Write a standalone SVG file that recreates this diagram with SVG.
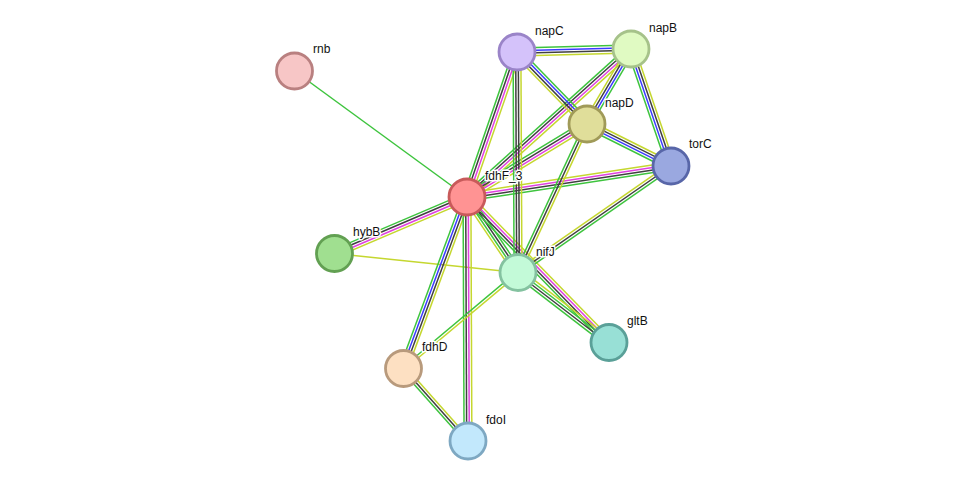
<svg xmlns="http://www.w3.org/2000/svg" width="975" height="487" viewBox="0 0 975 487">
<style>
  .e line { stroke-width: 1.5; fill: none; }
  .g { stroke: #3ec43e; }
  .k { stroke: #404040; }
  .m { stroke: #e040e0; }
  .b { stroke: #3a3aff; }
  .y { stroke: #c5d72f; }
  .node circle { stroke-width: 2.8; }
  .node text { font-family: "Liberation Sans", Arial, sans-serif; font-size: 12px; fill: #111; stroke: #fff; stroke-width: 3; stroke-linejoin: round; paint-order: stroke; }
</style>
<rect width="975" height="487" fill="#fff"/>
<g id="connectors" class="e">
  <!-- fdhF_3 - rnb -->
  <line class="g" x1="467" y1="197" x2="294.5" y2="71"/>
  <!-- nifJ - hybB -->
  <line class="y" x1="518" y1="272.5" x2="334.5" y2="253.5"/>
  <!-- fdhF_3 - napC -->
  <g transform="translate(467 197) rotate(-70.97)">
    <line class="g" x1="0" y1="-3.9" x2="153.4" y2="-3.9"/><line class="k" x1="0" y1="-1.3" x2="153.4" y2="-1.3"/>
    <line class="m" x1="0" y1="1.3" x2="153.4" y2="1.3"/><line class="y" x1="0" y1="3.9" x2="153.4" y2="3.9"/>
  </g>
  <!-- fdhF_3 - napB -->
  <g transform="translate(467 197) rotate(-42.06)">
    <line class="g" x1="0" y1="-3.9" x2="220.9" y2="-3.9"/><line class="k" x1="0" y1="-1.3" x2="220.9" y2="-1.3"/>
    <line class="m" x1="0" y1="1.3" x2="220.9" y2="1.3"/><line class="y" x1="0" y1="3.9" x2="220.9" y2="3.9"/>
  </g>
  <!-- fdhF_3 - napD -->
  <g transform="translate(467 197) rotate(-31.31)">
    <line class="g" x1="0" y1="-3.9" x2="140.5" y2="-3.9"/><line class="k" x1="0" y1="-1.3" x2="140.5" y2="-1.3"/>
    <line class="m" x1="0" y1="1.3" x2="140.5" y2="1.3"/><line class="y" x1="0" y1="3.9" x2="140.5" y2="3.9"/>
  </g>
  <!-- fdhF_3 - torC -->
  <g transform="translate(467 197) rotate(-8.64)">
    <line class="y" x1="0" y1="-3.9" x2="206.3" y2="-3.9"/><line class="m" x1="0" y1="-1.3" x2="206.3" y2="-1.3"/>
    <line class="k" x1="0" y1="1.3" x2="206.3" y2="1.3"/><line class="g" x1="0" y1="3.9" x2="206.3" y2="3.9"/>
  </g>
  <!-- fdhF_3 - hybB -->
  <g transform="translate(467 197) rotate(156.9)">
    <line class="y" x1="0" y1="-3.9" x2="144" y2="-3.9"/><line class="m" x1="0" y1="-1.3" x2="144" y2="-1.3"/>
    <line class="k" x1="0" y1="1.3" x2="144" y2="1.3"/><line class="g" x1="0" y1="3.9" x2="144" y2="3.9"/>
  </g>
  <!-- fdhF_3 - nifJ -->
  <g transform="translate(467 197) rotate(55.96)">
    <line class="g" x1="0" y1="-3.9" x2="91.1" y2="-3.9"/><line class="k" x1="0" y1="-1.3" x2="91.1" y2="-1.3"/>
    <line class="g" x1="0" y1="1.3" x2="91.1" y2="1.3"/><line class="y" x1="0" y1="3.9" x2="91.1" y2="3.9"/>
  </g>
  <!-- fdhF_3 - gltB -->
  <g transform="translate(467 197) rotate(45.7)">
    <line class="y" x1="0" y1="-3.9" x2="203.3" y2="-3.9"/><line class="m" x1="0" y1="-1.3" x2="203.3" y2="-1.3"/>
    <line class="k" x1="0" y1="1.3" x2="203.3" y2="1.3"/><line class="g" x1="0" y1="3.9" x2="203.3" y2="3.9"/>
  </g>
  <!-- fdhF_3 - fdhD -->
  <g transform="translate(467 197) rotate(110.32)">
    <line class="y" x1="0" y1="-3.9" x2="182.9" y2="-3.9"/><line class="k" x1="0" y1="-1.3" x2="182.9" y2="-1.3"/>
    <line class="b" x1="0" y1="1.3" x2="182.9" y2="1.3"/><line class="g" x1="0" y1="3.9" x2="182.9" y2="3.9"/>
  </g>
  <!-- fdhF_3 - fdoI -->
  <g transform="translate(467 197) rotate(89.77)">
    <line class="y" x1="0" y1="-3.9" x2="244" y2="-3.9"/><line class="m" x1="0" y1="-1.3" x2="244" y2="-1.3"/>
    <line class="k" x1="0" y1="1.3" x2="244" y2="1.3"/><line class="g" x1="0" y1="3.9" x2="244" y2="3.9"/>
  </g>
  <!-- napC - napB -->
  <g transform="translate(517 52) rotate(-1.51)">
    <line class="g" x1="0" y1="-3.9" x2="114" y2="-3.9"/><line class="b" x1="0" y1="-1.3" x2="114" y2="-1.3"/>
    <line class="k" x1="0" y1="1.3" x2="114" y2="1.3"/><line class="y" x1="0" y1="3.9" x2="114" y2="3.9"/>
  </g>
  <!-- napC - napD -->
  <g transform="translate(517 52) rotate(45.81)">
    <line class="g" x1="0" y1="-3.9" x2="100.4" y2="-3.9"/><line class="b" x1="0" y1="-1.3" x2="100.4" y2="-1.3"/>
    <line class="k" x1="0" y1="1.3" x2="100.4" y2="1.3"/><line class="y" x1="0" y1="3.9" x2="100.4" y2="3.9"/>
  </g>
  <!-- napC - nifJ -->
  <g transform="translate(517 52) rotate(89.74)">
    <line class="y" x1="0" y1="-3.9" x2="220.5" y2="-3.9"/><line class="k" x1="0" y1="-1.3" x2="220.5" y2="-1.3"/>
    <line class="k" x1="0" y1="1.3" x2="220.5" y2="1.3"/><line class="g" x1="0" y1="3.9" x2="220.5" y2="3.9"/>
  </g>
  <!-- napB - napD -->
  <g transform="translate(631 49) rotate(120.4)">
    <line class="g" x1="0" y1="-3.9" x2="86.95" y2="-3.9"/><line class="b" x1="0" y1="-1.3" x2="86.95" y2="-1.3"/>
    <line class="k" x1="0" y1="1.3" x2="86.95" y2="1.3"/><line class="y" x1="0" y1="3.9" x2="86.95" y2="3.9"/>
  </g>
  <!-- napB - torC -->
  <g transform="translate(631 49) rotate(71.12)">
    <line class="y" x1="0" y1="-3.9" x2="123.6" y2="-3.9"/><line class="k" x1="0" y1="-1.3" x2="123.6" y2="-1.3"/>
    <line class="b" x1="0" y1="1.3" x2="123.6" y2="1.3"/><line class="g" x1="0" y1="3.9" x2="123.6" y2="3.9"/>
  </g>
  <!-- napD - torC -->
  <g transform="translate(587 124) rotate(26.57)">
    <line class="y" x1="0" y1="-3.9" x2="93.9" y2="-3.9"/><line class="k" x1="0" y1="-1.3" x2="93.9" y2="-1.3"/>
    <line class="b" x1="0" y1="1.3" x2="93.9" y2="1.3"/><line class="g" x1="0" y1="3.9" x2="93.9" y2="3.9"/>
  </g>
  <!-- napD - nifJ -->
  <g transform="translate(587 124) rotate(114.92)">
    <line class="y" x1="0" y1="-2.6" x2="163.7" y2="-2.6"/><line class="k" x1="0" y1="0" x2="163.7" y2="0"/>
    <line class="g" x1="0" y1="2.6" x2="163.7" y2="2.6"/>
  </g>
  <!-- torC - nifJ -->
  <g transform="translate(671 166) rotate(145.16)">
    <line class="g" x1="0" y1="-2.6" x2="186.4" y2="-2.6"/><line class="k" x1="0" y1="0" x2="186.4" y2="0"/>
    <line class="y" x1="0" y1="2.6" x2="186.4" y2="2.6"/>
  </g>
  <!-- nifJ - gltB -->
  <g transform="translate(518 272.5) rotate(37.57)">
    <line class="y" x1="0" y1="-3.9" x2="114.8" y2="-3.9"/><line class="g" x1="0" y1="-1.3" x2="114.8" y2="-1.3"/>
    <line class="k" x1="0" y1="1.3" x2="114.8" y2="1.3"/><line class="g" x1="0" y1="3.9" x2="114.8" y2="3.9"/>
  </g>
  <!-- nifJ - fdhD -->
  <g transform="translate(518 272.5) rotate(140.02)">
    <line class="y" x1="0" y1="-1.3" x2="149.4" y2="-1.3"/><line class="g" x1="0" y1="1.3" x2="149.4" y2="1.3"/>
  </g>
  <!-- fdhD - fdoI -->
  <g transform="translate(403.5 368.5) rotate(48.34)">
    <line class="y" x1="0" y1="-2.6" x2="97" y2="-2.6"/><line class="k" x1="0" y1="0" x2="97" y2="0"/>
    <line class="g" x1="0" y1="2.6" x2="97" y2="2.6"/>
  </g>
</g>
<g id="rnb" class="node"><circle cx="294.5" cy="71" r="18" fill="#f7c6c6" stroke="#b98080"/><text x="313" y="53">rnb</text></g>
<g id="napC" class="node"><circle cx="517" cy="52" r="18" fill="#d4c2fa" stroke="#9a84c8"/><text x="535" y="35">napC</text></g>
<g id="napB" class="node"><circle cx="631" cy="49" r="18" fill="#e0fac2" stroke="#a6c28a"/><text x="649" y="32">napB</text></g>
<g id="napD" class="node"><circle cx="587" cy="124" r="18" fill="#e0de9a" stroke="#a09a58"/><text x="605" y="107">napD</text></g>
<g id="torC" class="node"><circle cx="671" cy="166" r="18" fill="#9aa8e0" stroke="#5866a8"/><text x="689" y="148">torC</text></g>
<g id="fdhF_3" class="node"><circle cx="467" cy="197" r="18" fill="#ff9393" stroke="#c85a5a"/><text x="485" y="180">fdhF_3</text></g>
<g id="hybB" class="node"><circle cx="334.5" cy="253.5" r="18" fill="#a0df90" stroke="#62a052"/><text x="353" y="236">hybB</text></g>
<g id="nifJ" class="node"><circle cx="518" cy="272.5" r="18" fill="#c3fad8" stroke="#84c2a0"/><text x="536" y="256">nifJ</text></g>
<g id="gltB" class="node"><circle cx="609" cy="342.5" r="18" fill="#98e0d6" stroke="#5aa098"/><text x="627" y="325">gltB</text></g>
<g id="fdhD" class="node"><circle cx="403.5" cy="368.5" r="18" fill="#fde0c2" stroke="#b89a7c"/><text x="422" y="351">fdhD</text></g>
<g id="fdoI" class="node"><circle cx="468" cy="441" r="18" fill="#c2e8fc" stroke="#7ea8c2"/><text x="486" y="424">fdoI</text></g>
</svg>
